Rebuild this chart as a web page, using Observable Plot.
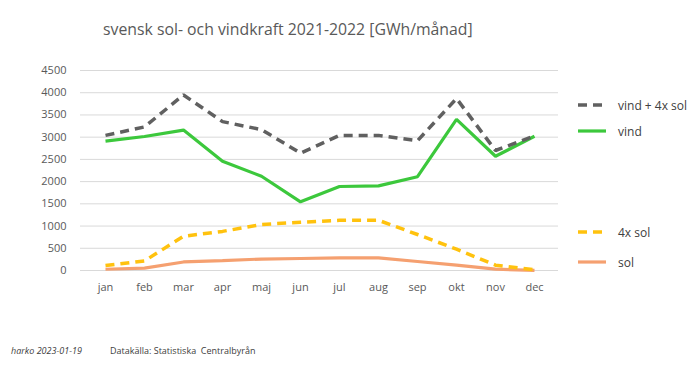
<!DOCTYPE html>
<html>
<head>
<meta charset="utf-8">
<script src="https://cdn.jsdelivr.net/npm/d3@7"></script>
<script src="https://cdn.jsdelivr.net/npm/@observablehq/plot@0.6"></script>
<style>
  html, body { margin: 0; padding: 0; background: #fff; }
  #wrap { position: relative; width: 700px; height: 365px; font-family: "Open Sans", "Liberation Sans", sans-serif; overflow: hidden; }
  #title { position: absolute; left: 103px; top: 18px; font-size: 15.8px; color: #595959; white-space: nowrap; }
  #chart { position: absolute; left: 0; top: 0; }
  .leg { position: absolute; left: 578px; font-size: 12px; color: #404040; display: flex; align-items: center; white-space: nowrap; }
  .leg svg { margin-right: 12px; }
  #foot1 { position: absolute; left: 11px; top: 344px; font-size: 9px; font-style: italic; color: #404040; }
  #foot2 { position: absolute; left: 110px; top: 344px; font-size: 9px; color: #404040; }
</style>
</head>
<body>
<div id="wrap">
  <div id="chart"></div>
  <div id="title">svensk sol- och vindkraft 2021-2022 [GWh/månad]</div>
  <div id="legend"></div>
  <div id="foot1">harko 2023-01-19</div>
  <div id="foot2">Datakälla: Statistiska&nbsp; Centralbyrån</div>
</div>
<script>
const months = ["jan","feb","mar","apr","maj","jun","jul","aug","sep","okt","nov","dec"];
const vindPlus4xSol = [3040, 3230, 3950, 3350, 3170, 2640, 3040, 3040, 2920, 3870, 2700, 3030];
const vind = [2910, 3015, 3160, 2460, 2120, 1545, 1890, 1905, 2110, 3400, 2570, 3020];
const fyraxSol = [110, 215, 770, 880, 1035, 1085, 1130, 1130, 810, 480, 120, 15];
const sol = [28, 54, 192, 220, 258, 270, 282, 282, 202, 120, 30, 4];
const yTicks = [0, 500, 1000, 1500, 2000, 2500, 3000, 3500, 4000, 4500];

const seriesNames = ["vind + 4x sol", "vind", "4x sol", "sol"];
const seriesValues = [vindPlus4xSol, vind, fyraxSol, sol];
const styles = {
  "vind + 4x sol": {stroke: "#606060", dash: "9,6", width: 3.5},
  "vind": {stroke: "#3cc83c", dash: null, width: 3.2},
  "4x sol": {stroke: "#ffc20e", dash: "9,6", width: 3.5},
  "sol": {stroke: "#f5a070", dash: null, width: 3.2}
};
const legendY = {"vind + 4x sol": 105, "vind": 131, "4x sol": 232, "sol": 262};

const data = [];
seriesNames.forEach((name, i) => months.forEach((m, j) => data.push({series: name, month: m, value: seriesValues[i][j]})));

const lineMarks = seriesNames.slice().reverse().map(name => Plot.line(data.filter(d => d.series === name), {
  x: "month", y: "value", stroke: styles[name].stroke, strokeWidth: styles[name].width,
  strokeDasharray: styles[name].dash, strokeLinejoin: "miter", strokeLinecap: "butt"
}));

const plot = Plot.plot({
  width: 700,
  height: 305,
  marginTop: 70,
  marginBottom: 35,
  marginLeft: 80,
  marginRight: 142,
  style: {fontFamily: "'Open Sans', 'Liberation Sans', sans-serif", fontSize: "11px", color: "#595959", background: "white"},
  x: {type: "point", domain: months, range: [100, 539], padding: 0, label: null},
  y: {domain: [0, 4500], label: null},
  marks: [
    Plot.gridY(yTicks, {stroke: "#d9d9d9", strokeOpacity: 1, strokeWidth: 1}),
    Plot.axisY(yTicks, {tickSize: 0, tickPadding: 14, tickFormat: d => String(d), fill: "#595959", fontSize: 11}),
    Plot.axisX(months, {tickSize: 0, tickPadding: 13, fill: "#595959", fontSize: 11}),
    ...lineMarks
  ]
});
document.getElementById("chart").appendChild(plot);

const legend = document.getElementById("legend");
seriesNames.forEach(name => {
  const s = styles[name];
  const div = document.createElement("div");
  div.className = "leg";
  div.style.top = (legendY[name] - 9) + "px";
  div.innerHTML = `<svg width="28" height="18"><line x1="0" y1="9" x2="28" y2="9" stroke="${s.stroke}" stroke-width="${s.width}" ${s.dash ? `stroke-dasharray="${s.dash}"` : ""}/></svg><span>${name}</span>`;
  legend.appendChild(div);
});
</script>
</body>
</html>
